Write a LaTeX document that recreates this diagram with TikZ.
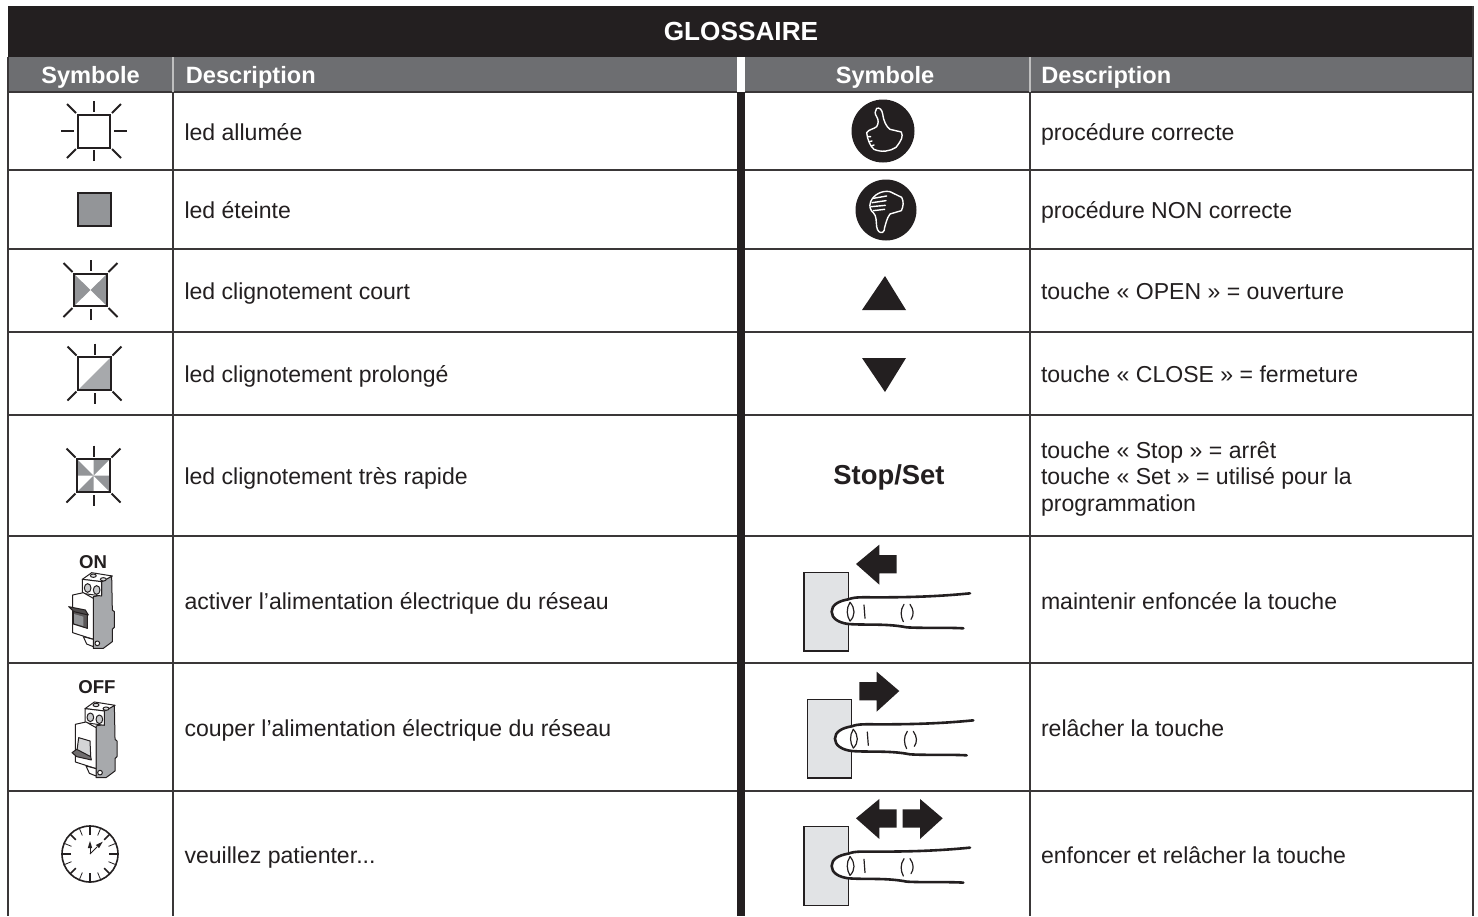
\documentclass[tikz,border=0pt]{standalone}
\usepackage{fontspec}
\setmainfont{Liberation Sans}
\definecolor{ink}{HTML}{231F20}
\definecolor{headgray}{HTML}{6D6E71}
\definecolor{ledgray}{HTML}{939598}
\definecolor{ledlight}{HTML}{A7A9AC}
\definecolor{padgray}{HTML}{E1E3E5}
\definecolor{rule}{HTML}{3A3738}
\tikzset{
  x=0.5pt,y=-0.5pt,
  body/.style={anchor=base west,inner sep=0pt,outer sep=0pt,text=ink,font=\fontsize{11.53}{13.3}\selectfont},
  headtext/.style={anchor=base west,inner sep=0pt,text=white,font=\fontsize{11.8}{14}\selectfont\bfseries},
  headcenter/.style={anchor=base,inner sep=0pt,text=white,font=\fontsize{11.8}{14}\selectfont\bfseries},
  ledbox/.style={draw=ink,line width=1pt},
  ray/.style={draw=ink,line width=1pt},
  rowline/.style={draw=rule,line width=0.55pt},
  thumb/.style={draw=white,line width=0.7pt,line join=round,line cap=round,fill=none},
  fingerline/.style={draw=ink,line width=1.3pt,line cap=round},
  thin finger/.style={draw=ink,line width=.6pt,line cap=round},
  brk/.style={draw=ink,line width=.5pt,line join=round},
}
% rays around a led: centre cx,cy
\newcommand{\ledrays}[2]{%
  \draw[ray] (#1,#2-30) -- (#1,#2-19);
  \draw[ray] (#1,#2+30) -- (#1,#2+19);
  \draw[ray] (#1-27,#2-27) -- (#1-18,#2-18);
  \draw[ray] (#1+27,#2-27) -- (#1+18,#2-18);
  \draw[ray] (#1-27,#2+27) -- (#1-18,#2+18);
  \draw[ray] (#1+27,#2+27) -- (#1+18,#2+18);
}
% finger drawing, in 3x-zoom units
\newcommand{\fingerart}[2]{%
  \begin{scope}[shift={(#1,#2)},scale=1/3]
    \draw[fill=padgray,draw=ink,line width=.7pt] (42,97) rectangle (175,333);
    \fill[white] (185,172) .. controls (180,174) and (178,176) .. (175,178)
       .. controls (145,183) and (125,195) .. (125,215)
       .. controls (125,235) and (145,248) .. (175,252) -- (185,254) -- cycle;
    \draw[fingerline] (540,160) .. controls (440,170) and (350,172) .. (260,172)
       .. controls (220,172) and (195,170) .. (175,178)
       .. controls (145,183) and (125,195) .. (125,215)
       .. controls (125,235) and (145,248) .. (175,252)
       .. controls (230,256) and (290,250) .. (350,262)
       .. controls (400,265) and (470,262) .. (520,265);
    \draw[thin finger] (180,187) .. controls (168,205) and (170,228) .. (180,243);
    \draw[thin finger] (180,187) .. controls (196,205) and (196,228) .. (180,243);
    \draw[thin finger] (222,195) -- (225,235);
    \draw[thin finger] (342,193) .. controls (330,210) and (332,230) .. (340,245);
    \draw[thin finger] (360,193) .. controls (372,210) and (372,225) .. (363,238);
  \end{scope}}
\newcommand{\leftarrowart}[2]{%
  \begin{scope}[shift={(#1,#2)},scale=1/3]
    \fill[ink] (198,72) -- (268,14) -- (268,45) -- (320,45) -- (320,100) -- (268,100) -- (268,134) -- cycle;
  \end{scope}}
\newcommand{\rightarrowart}[2]{%
  \begin{scope}[shift={(#1,#2)},scale=1/3]
    \fill[ink] (318,72) -- (250,14) -- (250,45) -- (198,45) -- (198,100) -- (250,100) -- (250,134) -- cycle;
  \end{scope}}
% circuit breaker, in 3x-zoom units
\newcommand{\breaker}[3]{%
  \begin{scope}[shift={(#1,#2)},scale=1/3]
    \draw[brk,fill=ledlight] (155,125) -- (185,108) -- (187,210) -- (193,215) -- (193,262) -- (187,268) -- (187,305) -- (160,325) -- (130,325) -- (130,170) -- (155,165) -- cycle;
    \draw[brk,fill=white] (97,118) -- (125,98) -- (187,108) -- (155,125) -- cycle;
    \draw[brk,fill=white] (97,118) -- (155,125) -- (155,168) -- (97,160) -- cycle;
    \draw[brk,fill=ledlight!60] (113,144) ellipse (10 and 13);
    \draw[brk,fill=ledlight!60] (140,150) ellipse (10 and 13);
    \draw[brk,fill=ledlight!40] (130,107) ellipse (9 and 5);
    \draw[brk,fill=ledlight!40] (160,118) ellipse (9 and 5);
    \draw[brk,fill=white] (68,165) -- (100,158) -- (130,175) -- (130,298) -- (68,278) -- cycle;
    \draw[brk,fill=white] (100,290) -- (130,298) -- (130,320) -- (110,312) -- cycle;
    \draw[brk,fill=white] (142,310) circle (7);
    #3
  \end{scope}}
\begin{document}
\begin{tikzpicture}
\useasboundingbox (0,0) rectangle (1478,916);
\fill[white] (0,0) rectangle (1478,916);
% header bands
\fill[ink] (8,6) rectangle (1473,57);
\fill[headgray] (8,57) rectangle (737,92);
\fill[headgray] (745,57) rectangle (1473,92);
\fill[rule] (8,91) rectangle (737,92.5);
\fill[rule] (745,91) rectangle (1473,92.5);
\fill[ink] (737,92) rectangle (745,916);
% frame
\draw[rowline] (8,57) -- (8,916);
\draw[rowline] (1473,6) -- (1473,916);
\draw[draw=white!75!black,line width=.6pt] (173,57) -- (173,92);
\draw[draw=white!75!black,line width=.6pt] (1030,57) -- (1030,92);
\draw[rowline] (173,92) -- (173,916);
\draw[rowline] (1030,92) -- (1030,916);
% row rules
\foreach \yy in {170,249,332,415,536,663,791}{
  \draw[rowline] (8,\yy) -- (737,\yy);
  \draw[rowline] (745,\yy) -- (1473,\yy);
}
% headings
\node[anchor=base,inner sep=0pt,text=white,font=\fontsize{13.1}{14}\selectfont\bfseries] (title) at (741,40) {GLOSSAIRE};
\node[headcenter] (hs1) at (90.5,83) {Symbole};
\node[headtext] (hd1) at (185.5,83) {Description};
\node[headcenter] (hs2) at (885,83) {Symbole};
\node[headtext] (hd2) at (1041,83) {Description};
% left descriptions
\node[body] (l1) at (184.5,140) {led allumée};
\node[body] (l2) at (184.5,218) {led éteinte};
\node[body] (l3) at (184.5,299) {led clignotement court};
\node[body] (l4) at (184.5,382) {led clignotement prolongé};
\node[body] (l5) at (184.5,484) {led clignotement très rapide};
\node[body] (l6) at (184.5,609) {activer l’alimentation électrique du réseau};
\node[body] (l7) at (184.5,736) {couper l’alimentation électrique du réseau};
\node[body] (l8) at (184.5,863) {veuillez patienter...};
% right descriptions
\node[body] (r1) at (1041,140) {procédure correcte};
\node[body] (r2) at (1041,218) {procédure NON correcte};
\node[body] (r3) at (1041,299) {touche « OPEN » = ouverture};
\node[body] (r4) at (1041,382) {touche « CLOSE » = fermeture};
\node[body] (r5a) at (1041,458) {touche « Stop » = arrêt};
\node[body] (r5b) at (1041,484) {touche « Set » = utilisé pour la};
\node[body] (r5c) at (1041,511) {programmation};
\node[body] (r6) at (1041,609) {maintenir enfoncée la touche};
\node[body] (r7) at (1041,736) {relâcher la touche};
\node[body] (r8) at (1041,863) {enfoncer et relâcher la touche};
\node[anchor=base,inner sep=0pt,text=ink,font=\fontsize{13.7}{14}\selectfont\bfseries] (stopset) at (889,484) {Stop/Set};
% led 1
\ledrays{94}{131}
\draw[ray] (61,131) -- (74,131);
\draw[ray] (114,131) -- (127,131);
\draw[ledbox] (78,115) rectangle (110,148);
% led 2
\draw[ledbox,fill=ledgray] (78,193) rectangle (111,226);
% led 3
\ledrays{90.5}{290}
\fill[ledgray] (74,274) -- (90.5,290) -- (74,306) -- cycle;
\fill[ledgray] (107,274) -- (90.5,290) -- (107,306) -- cycle;
\draw[ledbox] (74,274) rectangle (107,306);
% led 4
\ledrays{94.5}{373.5}
\fill[ledlight] (111,357) -- (111,390) -- (78,390) -- cycle;
\draw[ledbox] (78,357) rectangle (111,390);
% led 5
\ledrays{93.5}{475.5}
\fill[ledgray] (77,459) -- (77,475.5) -- (93.5,475.5) -- cycle;
\fill[ledgray] (93.5,459) -- (110,459) -- (93.5,475.5) -- cycle;
\fill[ledgray] (110,475.5) -- (110,492) -- (93.5,475.5) -- cycle;
\fill[ledgray] (77,492) -- (93.5,492) -- (93.5,475.5) -- cycle;
\draw[ledbox] (77,459) rectangle (110,492);
% breakers
\node[anchor=base,inner sep=0pt,text=ink,font=\fontsize{9.3}{11}\selectfont\bfseries] (on) at (93,568) {ON};
\breaker{50}{540}{%
  \fill[ink!75] (70,212) -- (112,222) -- (112,265) -- (70,252) -- cycle;
  \draw[brk,fill=ink!80] (56,200) -- (106,210) -- (115,225) -- (72,215) -- cycle;
  \fill[ledgray] (72,222) -- (100,230) -- (100,258) -- (72,250) -- cycle;
  \draw[brk] (70,215) -- (70,252) -- (112,265) -- (112,222);
}
\node[anchor=base,inner sep=0pt,text=ink,font=\fontsize{9.3}{11}\selectfont\bfseries] (off) at (97,693) {OFF};
\breaker{52.7}{669.3}{%
  \fill[ledlight!70] (78,205) -- (112,215) -- (114,262) -- (72,250) -- cycle;
  \draw[brk,fill=ledlight!50] (78,205) -- (112,215) -- (114,262) -- (72,250) -- cycle;
  \draw[brk,fill=ink!65] (58,250) -- (72,240) -- (114,262) -- (116,272) -- (72,262) -- cycle;
}
% clock
\begin{scope}[shift={(90,854)}]
  \draw[ink,line width=.8pt] (0,0) circle (28);
  \foreach \a in {0,90,180,270}{\draw[ink,line width=.9pt] (\a:19) -- (\a:27.5);}
  \foreach \a in {45,135,225,315}{\draw[ink,line width=.8pt] (\a:20) -- (\a:27.5);}
  \foreach \a in {22.5,67.5,112.5,157.5,202.5,247.5,292.5,337.5}{\draw[ink,line width=.4pt] (\a:20) -- (\a:27.5);}
  \draw[ink,line width=.5pt] (0,0) -- (0,-8);
  \draw[ink,line width=.5pt] (0,0) -- (7,-7);
  \fill[ink] (0,-13) -- (-2.2,-6) -- (2.2,-6) -- cycle;
  \fill[ink] (12.7,-12.3) -- (9,-5.8) -- (5.8,-9) -- cycle;
\end{scope}
% thumbs
\fill[ink] (883,131) circle (31.5);
\begin{scope}[shift={(840,90)},scale=1/3]
  \draw[thumb] (110,55) .. controls (118,52) and (126,58) .. (128,72)
    .. controls (130,92) and (140,112) .. (150,118) -- (184,126)
    .. controls (190,140) and (185,150) .. (168,172)
    .. controls (150,184) and (125,188) .. (102,178)
    .. controls (92,170) and (82,150) .. (80,128)
    .. controls (86,118) and (100,118) .. (110,110)
    .. controls (116,100) and (116,90) .. (110,80)
    .. controls (104,72) and (104,62) .. (110,55);
  \draw[thumb] (84,140) -- (92,140) (88,155) -- (96,153) (94,168) -- (102,165);
\end{scope}
\fill[ink] (886,210) circle (30.5);
\begin{scope}[shift={(840,90)},scale=1/3]
  \draw[thumb] (128,427) .. controls (120,430) and (112,424) .. (110,410)
    .. controls (108,392) and (110,378) .. (100,368)
    .. controls (92,362) and (86,350) .. (92,335)
    .. controls (100,315) and (125,300) .. (150,305)
    -- (185,322)
    .. controls (192,335) and (190,350) .. (184,362) -- (150,372)
    .. controls (140,385) and (138,400) .. (134,412)
    .. controls (134,420) and (132,424) .. (128,427);
  \draw[thumb] (100,325) -- (140,318) (96,338) -- (138,332) (94,350) -- (136,346) (100,362) -- (134,358);
\end{scope}
% triangles
\fill[ink] (885,276) -- (906,310) -- (862,310) -- cycle;
\fill[ink] (885,392) -- (906,358) -- (862,358) -- cycle;
% fingers
\fingerart{790}{540}
\leftarrowart{790}{540}
\fingerart{793.3}{667}
\rightarrowart{793.3}{667}
\fingerart{790}{794.3}
\leftarrowart{790}{794.3}
\rightarrowart{836.7}{794.3}
\end{tikzpicture}
\end{document}
